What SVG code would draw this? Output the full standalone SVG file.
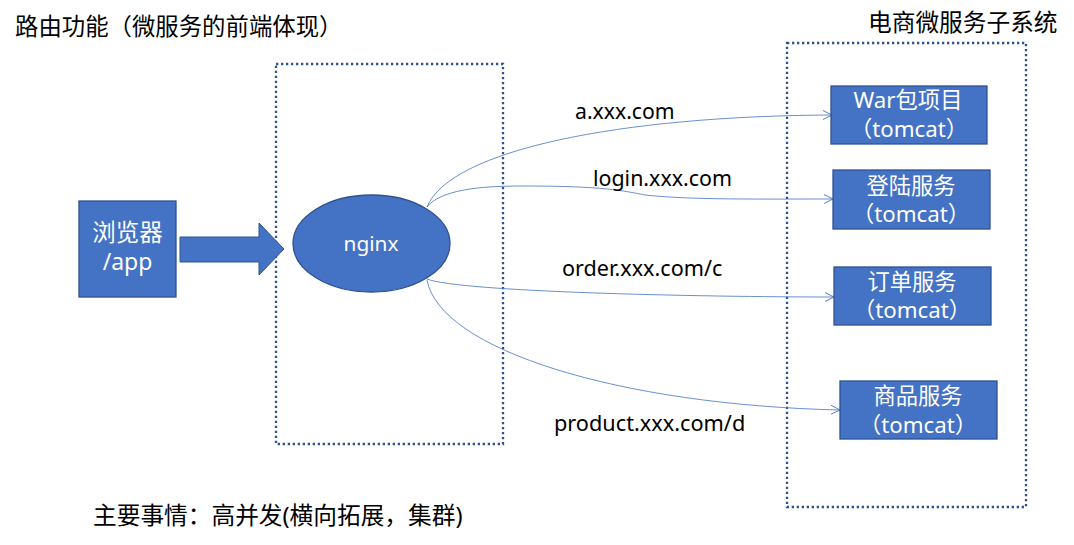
<svg xmlns="http://www.w3.org/2000/svg" width="1074" height="545" viewBox="0 0 1074 545">
<style>
.t{font-family:"Noto Sans","Noto Sans CJK SC",sans-serif;fill:#000}
.w{font-family:"Noto Sans","Noto Sans CJK SC",sans-serif;fill:#fff;text-anchor:middle}
.box{fill:#4472C4;stroke:#2F528F;stroke-width:1.3}
.dot{fill:none;stroke:#2F528F;stroke-width:2.3;stroke-dasharray:2.3 2.7}
.c{fill:none;stroke:#4472C4;stroke-width:0.8;marker-end:url(#ah)}
</style>
<defs>
<marker id="ah" viewBox="0 0 10 10" refX="9" refY="5" markerWidth="10" markerHeight="10" markerUnits="userSpaceOnUse" orient="auto">
<path d="M0,0.5 L9,5 L0,9.5" fill="none" stroke="#4472C4" stroke-width="0.9"/>
</marker>
</defs>
<rect width="1074" height="545" fill="#fff"/>
<text class="t" x="15" y="35" font-size="23.4">路由功能（微服务的前端体现）</text>
<text class="t" x="868" y="31" font-size="23.7">电商微服务子系统</text>
<text class="t" x="93" y="524" font-size="23.7">主要事情：高并发(横向拓展，集群)</text>
<g id="frames">
<rect class="dot" x="276" y="64" width="227" height="380"/>
<rect class="dot" x="787" y="43" width="239" height="464"/>
</g>
<g id="connectors">
<path class="c" d="M427,207 C450,150 620,116 832,115"/>
<path class="c" d="M427,207 C440,190 480,186 520,186 C600,186 620,190 645,195 C690,200 760,199 833,199"/>
<path class="c" d="M427,279 C460,292 700,297 834,297"/>
<path class="c" d="M427,280 C440,350 620,405 840,410"/>
<path d="M180,237 H259 V223 L284,249 L259,275 V262 H180 Z" fill="#4472C4" stroke="#2F528F" stroke-width="1"/>
</g>
<g id="labels">
<text class="t" x="575" y="119" font-size="21.2">a.xxx.com</text>
<text class="t" x="593" y="186" font-size="21.4">login.xxx.com</text>
<text class="t" x="562" y="276" font-size="21.6">order.xxx.com/c</text>
<text class="t" x="554" y="431" font-size="21.7">product.xxx.com/d</text>
</g>
<g id="browser">
<rect class="box" x="79" y="201" width="97" height="96"/>
<text class="w" x="127.5" y="241" font-size="23.5">浏览器</text>
<text class="w" x="127.5" y="270" font-size="23">/app</text>
</g>
<g id="nginx">
<ellipse cx="371.5" cy="243.5" rx="78.5" ry="48.5" class="box"/>
<text class="w" x="371" y="251" font-size="20.8">nginx</text>
</g>
<g id="war">
<rect class="box" x="831" y="86" width="156" height="58"/>
<text class="w" x="908" y="108" font-size="22.3">War包项目</text>
<text class="w" x="909" y="137" font-size="22.3">（tomcat）</text>
</g>
<g id="login">
<rect class="box" x="833" y="170" width="157" height="59"/>
<text class="w" x="911" y="194" font-size="22.3">登陆服务</text>
<text class="w" x="911" y="222" font-size="22.3">（tomcat）</text>
</g>
<g id="order">
<rect class="box" x="834" y="267" width="157" height="58"/>
<text class="w" x="912" y="290" font-size="22.3">订单服务</text>
<text class="w" x="912" y="318" font-size="22.3">（tomcat）</text>
</g>
<g id="product">
<rect class="box" x="840" y="381" width="157" height="58"/>
<text class="w" x="918" y="404" font-size="22.3">商品服务</text>
<text class="w" x="918" y="433" font-size="22.3">（tomcat）</text>
</g>
</svg>
